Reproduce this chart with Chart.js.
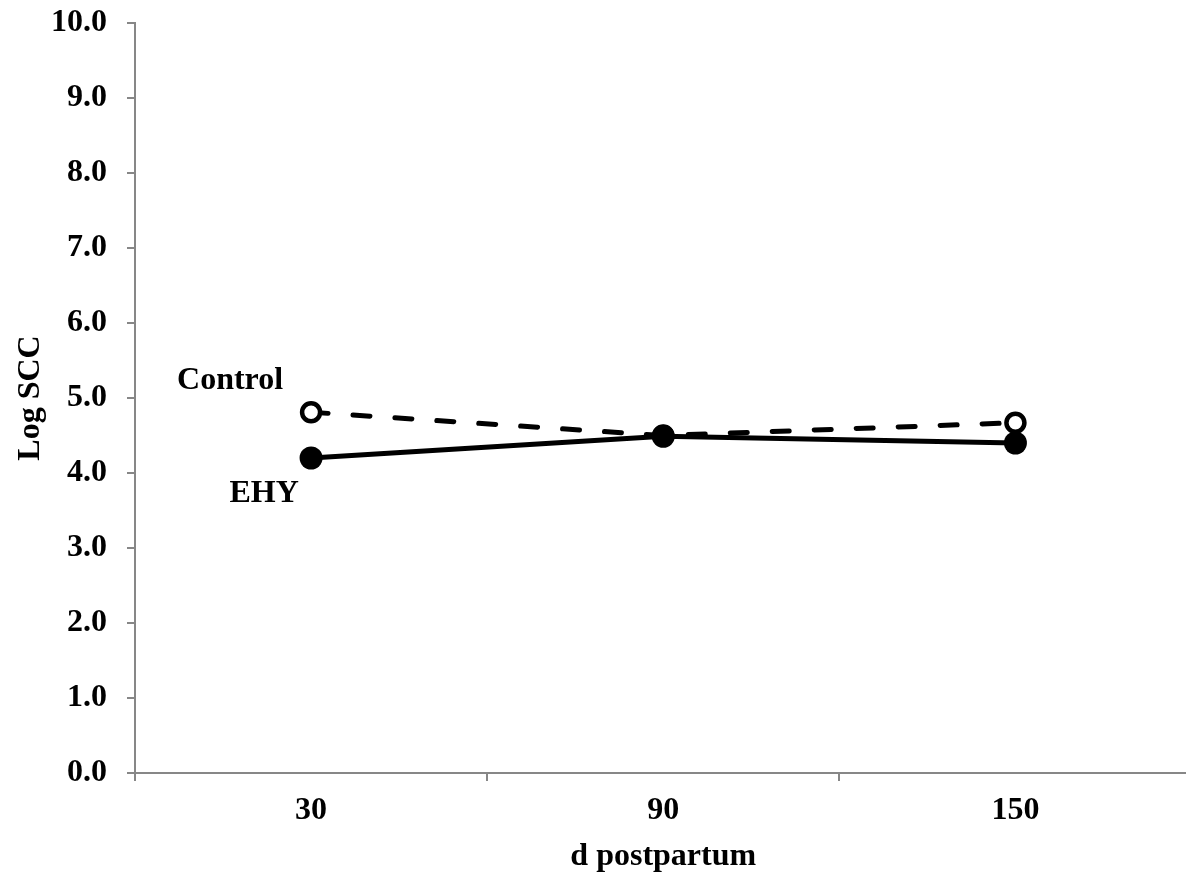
<!DOCTYPE html>
<html>
<head>
<meta charset="utf-8">
<script src="https://cdn.jsdelivr.net/npm/chart.js@4"></script>
<style>
  html, body { margin: 0; padding: 0; background: #fff; overflow: hidden; }
  #c { display: block; }
</style>
</head>
<body>
<canvas id="c" width="1205" height="876"></canvas>
<script>
const categories = ["30", "90", "150"];
const controlValues = [4.81, 4.50, 4.67];
const ehyValues = [4.20, 4.49, 4.40];
const yTickValues = [0, 1, 2, 3, 4, 5, 6, 7, 8, 9, 10];
const seriesLabels = ["EHY", "Control"];
const xAxisTitle = "d postpartum";
const yAxisTitle = "Log SCC";

const FONT = "'Liberation Serif', 'Times New Roman', serif";
const AXIS = "#878787";

const labelPlugin = {
  id: "seriesLabels",
  afterDatasetsDraw(chart) {
    const ctx = chart.ctx;
    const x = chart.scales.x, y = chart.scales.y;
    const x0 = x.getPixelForValue(0);
    ctx.save();
    ctx.font = "bold 32px " + FONT;
    ctx.fillStyle = "#000";
    ctx.textAlign = "center";
    ctx.textBaseline = "middle";
    ctx.fillText(seriesLabels[1], x0 - 81, y.getPixelForValue(5.23));
    ctx.fillText(seriesLabels[0], x0 - 47, y.getPixelForValue(3.72));
    ctx.restore();
  }
};

new Chart(document.getElementById("c"), {
  type: "line",
  data: {
    labels: categories,
    datasets: [
      {
        label: seriesLabels[0],
        data: ehyValues,
        borderColor: "#000",
        borderWidth: 5,
        pointRadius: 11.5,
        pointBackgroundColor: "#000",
        pointBorderColor: "#000",
        pointBorderWidth: 0,
        tension: 0
      },
      {
        label: seriesLabels[1],
        data: controlValues,
        borderColor: "#000",
        borderWidth: 5,
        borderDash: [17, 25],
        borderCapStyle: "round",
        pointRadius: 9,
        pointBackgroundColor: "#fff",
        pointBorderColor: "#000",
        pointBorderWidth: 4.5,
        tension: 0
      }
    ]
  },
  options: {
    responsive: false,
    animation: false,
    layout: { padding: { top: 23, left: 0, right: 0, bottom: 0 } },
    plugins: { legend: { display: false }, tooltip: { enabled: false } },
    scales: {
      x: {
        type: "category",
        offset: true,
        afterFit(scale) { scale.height = 103; scale.paddingLeft = 0; scale.paddingRight = 0; },
        grid: {
          offset: true,
          drawOnChartArea: false,
          drawTicks: true,
          tickLength: 8,
          color: AXIS,
          lineWidth: 2
        },
        border: { display: true, color: AXIS, width: 2 },
        ticks: {
          color: "#000",
          padding: 11,
          font: { family: FONT, size: 32, weight: "bold" },
          maxRotation: 0
        },
        title: {
          display: true,
          text: xAxisTitle,
          color: "#000",
          font: { family: FONT, size: 32, weight: "bold" },
          padding: { top: 7, bottom: 0 }
        }
      },
      y: {
        min: 0,
        max: 10,
        afterBuildTicks(scale) {
          scale.ticks = yTickValues.map(v => ({ value: v }));
        },
        afterFit(scale) { scale.width = 135; scale.paddingTop = 0; scale.paddingBottom = 0; },
        grid: {
          drawOnChartArea: false,
          drawTicks: true,
          tickLength: 8,
          color: AXIS,
          lineWidth: 2
        },
        border: { display: true, color: AXIS, width: 2 },
        ticks: {
          color: "#000",
          padding: 20,
          font: { family: FONT, size: 32, weight: "bold" },
          callback: v => Number(v).toFixed(1)
        },
        title: {
          display: true,
          text: yAxisTitle,
          color: "#000",
          font: { family: FONT, size: 32, weight: "bold" },
          padding: { top: 12, bottom: 0 }
        }
      }
    }
  },
  plugins: [labelPlugin]
});
</script>
</body>
</html>
